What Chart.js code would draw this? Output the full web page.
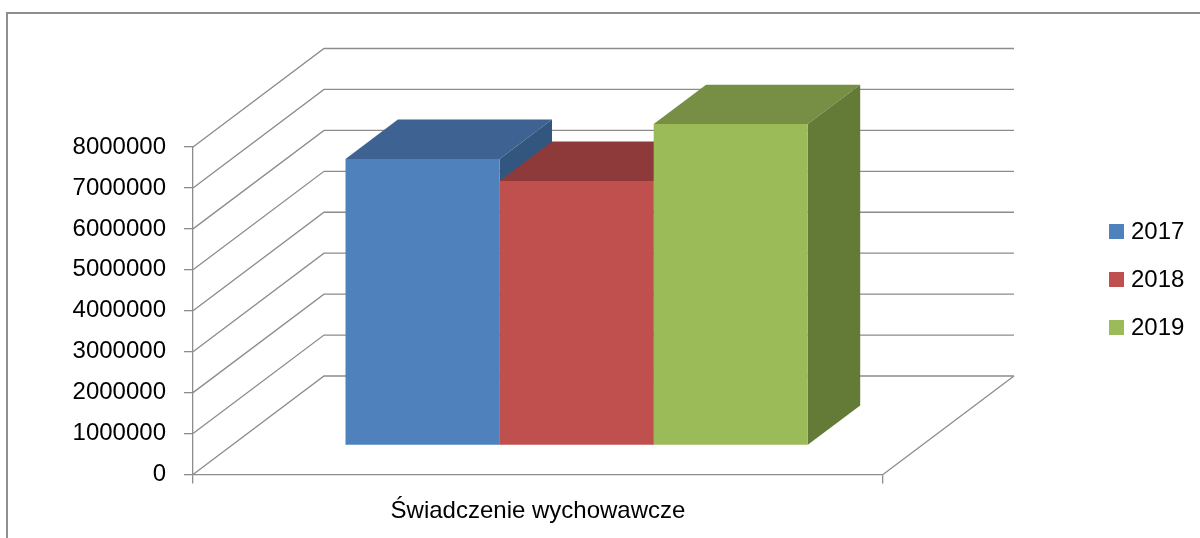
<!DOCTYPE html>
<html lang="pl">
<head>
<meta charset="utf-8">
<title>Świadczenie wychowawcze</title>
<script src="https://cdn.jsdelivr.net/npm/chart.js@4.4.1/dist/chart.umd.min.js"></script>
<style>
  html, body { margin: 0; padding: 0; background: #fff; }
  #wrap { width: 1200px; height: 538px; position: relative; }
</style>
</head>
<body>
<div id="wrap"><canvas id="chart"></canvas></div>
<script>
// --- data ---
const categories = ["Świadczenie wychowawcze"];
const seriesLabels = ["2017", "2018", "2019"];
const values2017 = [7000000];
const values2018 = [6460000];
const values2019 = [7850000];
const yMin = 0;
const yMax = 8000000;
const yStep = 1000000;

// --- look ---
const FONT = "'Liberation Sans', Arial, sans-serif";
const GRID = "#8c8c8c";
const frontColors = ["#4f81bd", "#c0504d", "#9bbb59"];
const topColors = ["#3e6392", "#8f3a3a", "#768f45"];
const sideColors = ["#33567f", "#7a3130", "#647a37"];
const DEPTH_X = 131;   // back wall offset (px)
const DEPTH_Y = 98.5;
const BAR_FRONT = 0.295; // where the bar front face sits, fraction of depth
const BAR_DEPTH = 0.4;   // bar thickness, fraction of depth

// 3D walls, bar tops/sides, frame and legend
const excel3d = {
  id: "excel3d",
  beforeDraw(chart) {
    const ctx = chart.ctx;
    ctx.save();
    ctx.strokeStyle = "#8f8f8f";
    ctx.lineWidth = 2;
    ctx.strokeRect(7, 13, 1400, 700);
    ctx.restore();
  },
  beforeDatasetsDraw(chart) {
    const { ctx, chartArea: a, scales: { y } } = chart;
    ctx.save();
    ctx.strokeStyle = GRID;
    ctx.lineWidth = 1.3;
    y.ticks.forEach(t => {
      const py = y.getPixelForValue(t.value);
      ctx.beginPath();
      ctx.moveTo(a.left, py);
      ctx.lineTo(a.left + DEPTH_X, py - DEPTH_Y);
      ctx.lineTo(a.right + DEPTH_X, py - DEPTH_Y);
      ctx.stroke();
    });
    // right edge of the floor
    const p0 = y.getPixelForValue(yMin);
    ctx.beginPath();
    ctx.moveTo(a.right, p0);
    ctx.lineTo(a.right + DEPTH_X, p0 - DEPTH_Y);
    ctx.stroke();

    const fx = DEPTH_X * BAR_FRONT, fy = DEPTH_Y * BAR_FRONT;
    const dx = DEPTH_X * BAR_DEPTH, dy = DEPTH_Y * BAR_DEPTH;
    chart.data.datasets.forEach((ds, i) => {
      chart.getDatasetMeta(i).data.forEach(bar => {
        const p = bar.getProps(["x", "y", "base", "width"], true);
        const l = p.x - p.width / 2 + fx, r = p.x + p.width / 2 + fx;
        const t = p.y - fy, b = p.base - fy;
        ctx.fillStyle = topColors[i];
        ctx.beginPath();
        ctx.moveTo(l, t); ctx.lineTo(r, t); ctx.lineTo(r + dx, t - dy); ctx.lineTo(l + dx, t - dy);
        ctx.closePath(); ctx.fill();
        ctx.fillStyle = sideColors[i];
        ctx.beginPath();
        ctx.moveTo(r, t); ctx.lineTo(r + dx, t - dy); ctx.lineTo(r + dx, b - dy); ctx.lineTo(r, b);
        ctx.closePath(); ctx.fill();
      });
    });
    ctx.restore();
    // front faces are drawn by Chart.js, shifted into the depth
    ctx.save();
    ctx.translate(fx, -fy);
  },
  afterDatasetsDraw(chart) {
    chart.ctx.restore();
  },
  afterDraw(chart) {
    const ctx = chart.ctx;
    ctx.save();
    ctx.font = "24px " + FONT;
    ctx.textBaseline = "middle";
    chart.data.datasets.forEach((ds, i) => {
      const cy = 231.5 + i * 48;
      ctx.fillStyle = ds.backgroundColor;
      ctx.fillRect(1109, cy - 7.5, 15, 15);
      ctx.fillStyle = "#000";
      ctx.fillText(ds.label, 1131, cy + 1);
    });
    ctx.restore();
  }
};

const allValues = [values2017, values2018, values2019];

new Chart(document.getElementById("chart"), {
  type: "bar",
  data: {
    labels: categories,
    datasets: seriesLabels.map((label, i) => ({
      label: label,
      data: allValues[i],
      backgroundColor: frontColors[i],
      borderWidth: 0,
      barPercentage: 1,
      categoryPercentage: 0.67,
      clip: false
    }))
  },
  options: {
    responsive: true,
    maintainAspectRatio: false,
    animation: false,
    layout: { padding: { top: 147, right: 317, left: 0, bottom: 0 } },
    plugins: {
      legend: { display: false },
      tooltip: { enabled: false }
    },
    scales: {
      x: {
        afterFit(s) { s.height = 63.5; },
        grid: { drawOnChartArea: false, drawTicks: true, tickLength: 9, color: GRID, lineWidth: 1.3 },
        border: { color: GRID, width: 1.3 },
        ticks: { color: "#000", padding: 13, font: { family: FONT, size: 24 } }
      },
      y: {
        min: yMin,
        max: yMax,
        afterFit(s) { s.width = 193; },
        grid: { drawOnChartArea: false, drawTicks: true, tickLength: 9, color: GRID, lineWidth: 1.3 },
        border: { color: GRID, width: 1.3 },
        ticks: {
          stepSize: yStep,
          color: "#000",
          padding: 18,
          font: { family: FONT, size: 24 },
          callback: v => String(v)
        }
      }
    }
  },
  plugins: [excel3d]
});
</script>
</body>
</html>
